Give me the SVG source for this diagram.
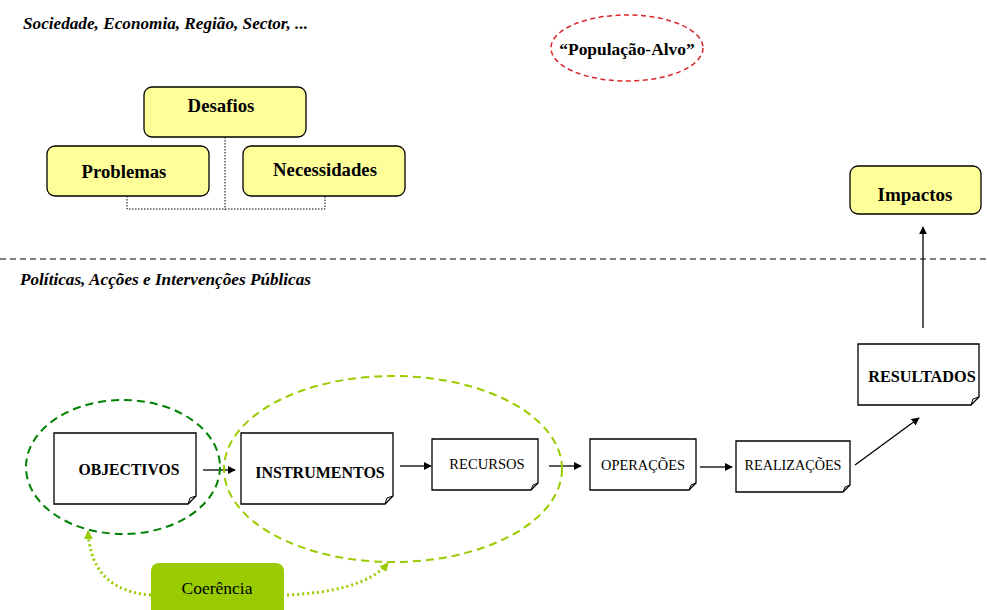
<svg xmlns="http://www.w3.org/2000/svg" width="987" height="610" viewBox="0 0 987 610">
<style>
.t{font-family:"Liberation Serif","Times New Roman",serif;fill:#000}
.b{font-weight:bold}
.i{font-style:italic}
.y{fill:#FFFF99;stroke:#000;stroke-width:1.3}
.doc{fill:#fff;stroke:#000;stroke-width:1.3}
.ar{stroke:#000;stroke-width:1.3;fill:none;marker-end:url(#ah)}
</style>
<defs>
<marker id="ah" viewBox="0 0 10 10" refX="9" refY="5" markerWidth="8" markerHeight="8" markerUnits="userSpaceOnUse" orient="auto"><path d="M0,0L10,5L0,10z" fill="#000"/></marker>
<marker id="ahg" viewBox="0 0 10 10" refX="9" refY="5" markerWidth="9" markerHeight="9" markerUnits="userSpaceOnUse" orient="auto"><path d="M0,0L10,5L0,10z" fill="#99CC00"/></marker>
</defs>
<rect width="987" height="610" fill="#fff"/>
<text class="t b i" x="23" y="29" font-size="17.2">Sociedade, Economia, Região, Sector, ...</text>
<text class="t b i" x="20" y="285" font-size="17.2">Políticas, Acções e Intervenções Públicas</text>
<line x1="0" y1="259" x2="987" y2="259" stroke="#000" stroke-width="1.2" stroke-dasharray="6,4"/>
<g id="connectors">
<path d="M225,137V210M127,196V209H325V196" fill="none" stroke="#000" stroke-width="1" stroke-dasharray="1.5,1.5"/>
<line class="ar" x1="923" y1="328" x2="923" y2="227"/>
<line class="ar" x1="203" y1="470" x2="235" y2="470"/>
<line class="ar" x1="400" y1="466" x2="431" y2="466"/>
<line class="ar" x1="549" y1="466" x2="581" y2="466"/>
<line class="ar" x1="700" y1="467" x2="732" y2="467"/>
<line class="ar" x1="855" y1="465" x2="919" y2="418"/>
<path d="M151,595 C110,592 90,570 88,531" fill="none" stroke="#99CC00" stroke-width="3" stroke-dasharray="2,3" marker-end="url(#ahg)"/>
<path d="M287,595 C330,593 370,585 388,563" fill="none" stroke="#99CC00" stroke-width="3" stroke-dasharray="2,3" marker-end="url(#ahg)"/>
</g>
<g id="desafios"><rect class="y" x="144" y="87" width="162" height="50" rx="8"/><text class="t b" x="221" y="112" font-size="18.8" text-anchor="middle">Desafios</text></g>
<g id="problemas"><rect class="y" x="47" y="146" width="162" height="50" rx="8"/><text class="t b" x="124" y="178" font-size="18.7" text-anchor="middle">Problemas</text></g>
<g id="necessidades"><rect class="y" x="243" y="146" width="162" height="50" rx="8"/><text class="t b" x="325" y="176" font-size="18.7" text-anchor="middle">Necessidades</text></g>
<g id="populacao"><ellipse cx="627" cy="48" rx="76" ry="33" fill="none" stroke="#D9262A" stroke-width="1.5" stroke-dasharray="5,3.5"/><text class="t b" x="627" y="55" font-size="17.4" text-anchor="middle">“População-Alvo”</text></g>
<g id="impactos"><rect class="y" x="850" y="166" width="131" height="48" rx="8"/><text class="t b" x="915" y="201" font-size="19" text-anchor="middle">Impactos</text></g>
<g id="resultados"><path class="doc" d="M858,344H979V397L971,405H858Z"/><path d="M979,397L973,399L971,405" fill="none" stroke="#000" stroke-width="1"/><text class="t b" x="922" y="382" font-size="16.3" text-anchor="middle">RESULTADOS</text></g>
<g id="objectivos"><path class="doc" d="M54,433H196V496L188,504H54Z"/><path d="M196,496L190,498L188,504" fill="none" stroke="#000" stroke-width="1"/><text class="t b" x="129" y="475" font-size="15.7" text-anchor="middle">OBJECTIVOS</text></g>
<g id="instrumentos"><path class="doc" d="M241,433H393V496L385,504H241Z"/><path d="M393,496L387,498L385,504" fill="none" stroke="#000" stroke-width="1"/><text class="t b" x="320" y="478" font-size="16" text-anchor="middle">INSTRUMENTOS</text></g>
<g id="recursos"><path class="doc" d="M432,439H538V483L531,490H432Z"/><path d="M538,483L533,485L531,490" fill="none" stroke="#000" stroke-width="1"/><text class="t" x="487" y="469" font-size="14.6" text-anchor="middle">RECURSOS</text></g>
<g id="operacoes"><path class="doc" d="M590,439H696V483L689,490H590Z"/><path d="M696,483L691,485L689,490" fill="none" stroke="#000" stroke-width="1"/><text class="t" x="643" y="470" font-size="14.4" text-anchor="middle">OPERAÇÕES</text></g>
<g id="realizacoes"><path class="doc" d="M736,441H850V485L843,492H736Z"/><path d="M850,485L845,487L843,492" fill="none" stroke="#000" stroke-width="1"/><text class="t" x="793" y="470" font-size="14.2" text-anchor="middle">REALIZAÇÕES</text></g>
<g id="grupo-objectivos"><ellipse cx="123" cy="467" rx="97" ry="67" fill="none" stroke="#008000" stroke-width="2" stroke-dasharray="8,5"/></g>
<g id="grupo-instrumentos"><ellipse cx="393" cy="469" rx="169" ry="93" fill="none" stroke="#99CC00" stroke-width="2" stroke-dasharray="8,5"/></g>
<g id="coerencia"><rect x="151" y="563" width="133" height="55" rx="8" fill="#99CC00"/><text class="t" x="217" y="594" font-size="17.5" text-anchor="middle">Coerência</text></g>
</svg>
